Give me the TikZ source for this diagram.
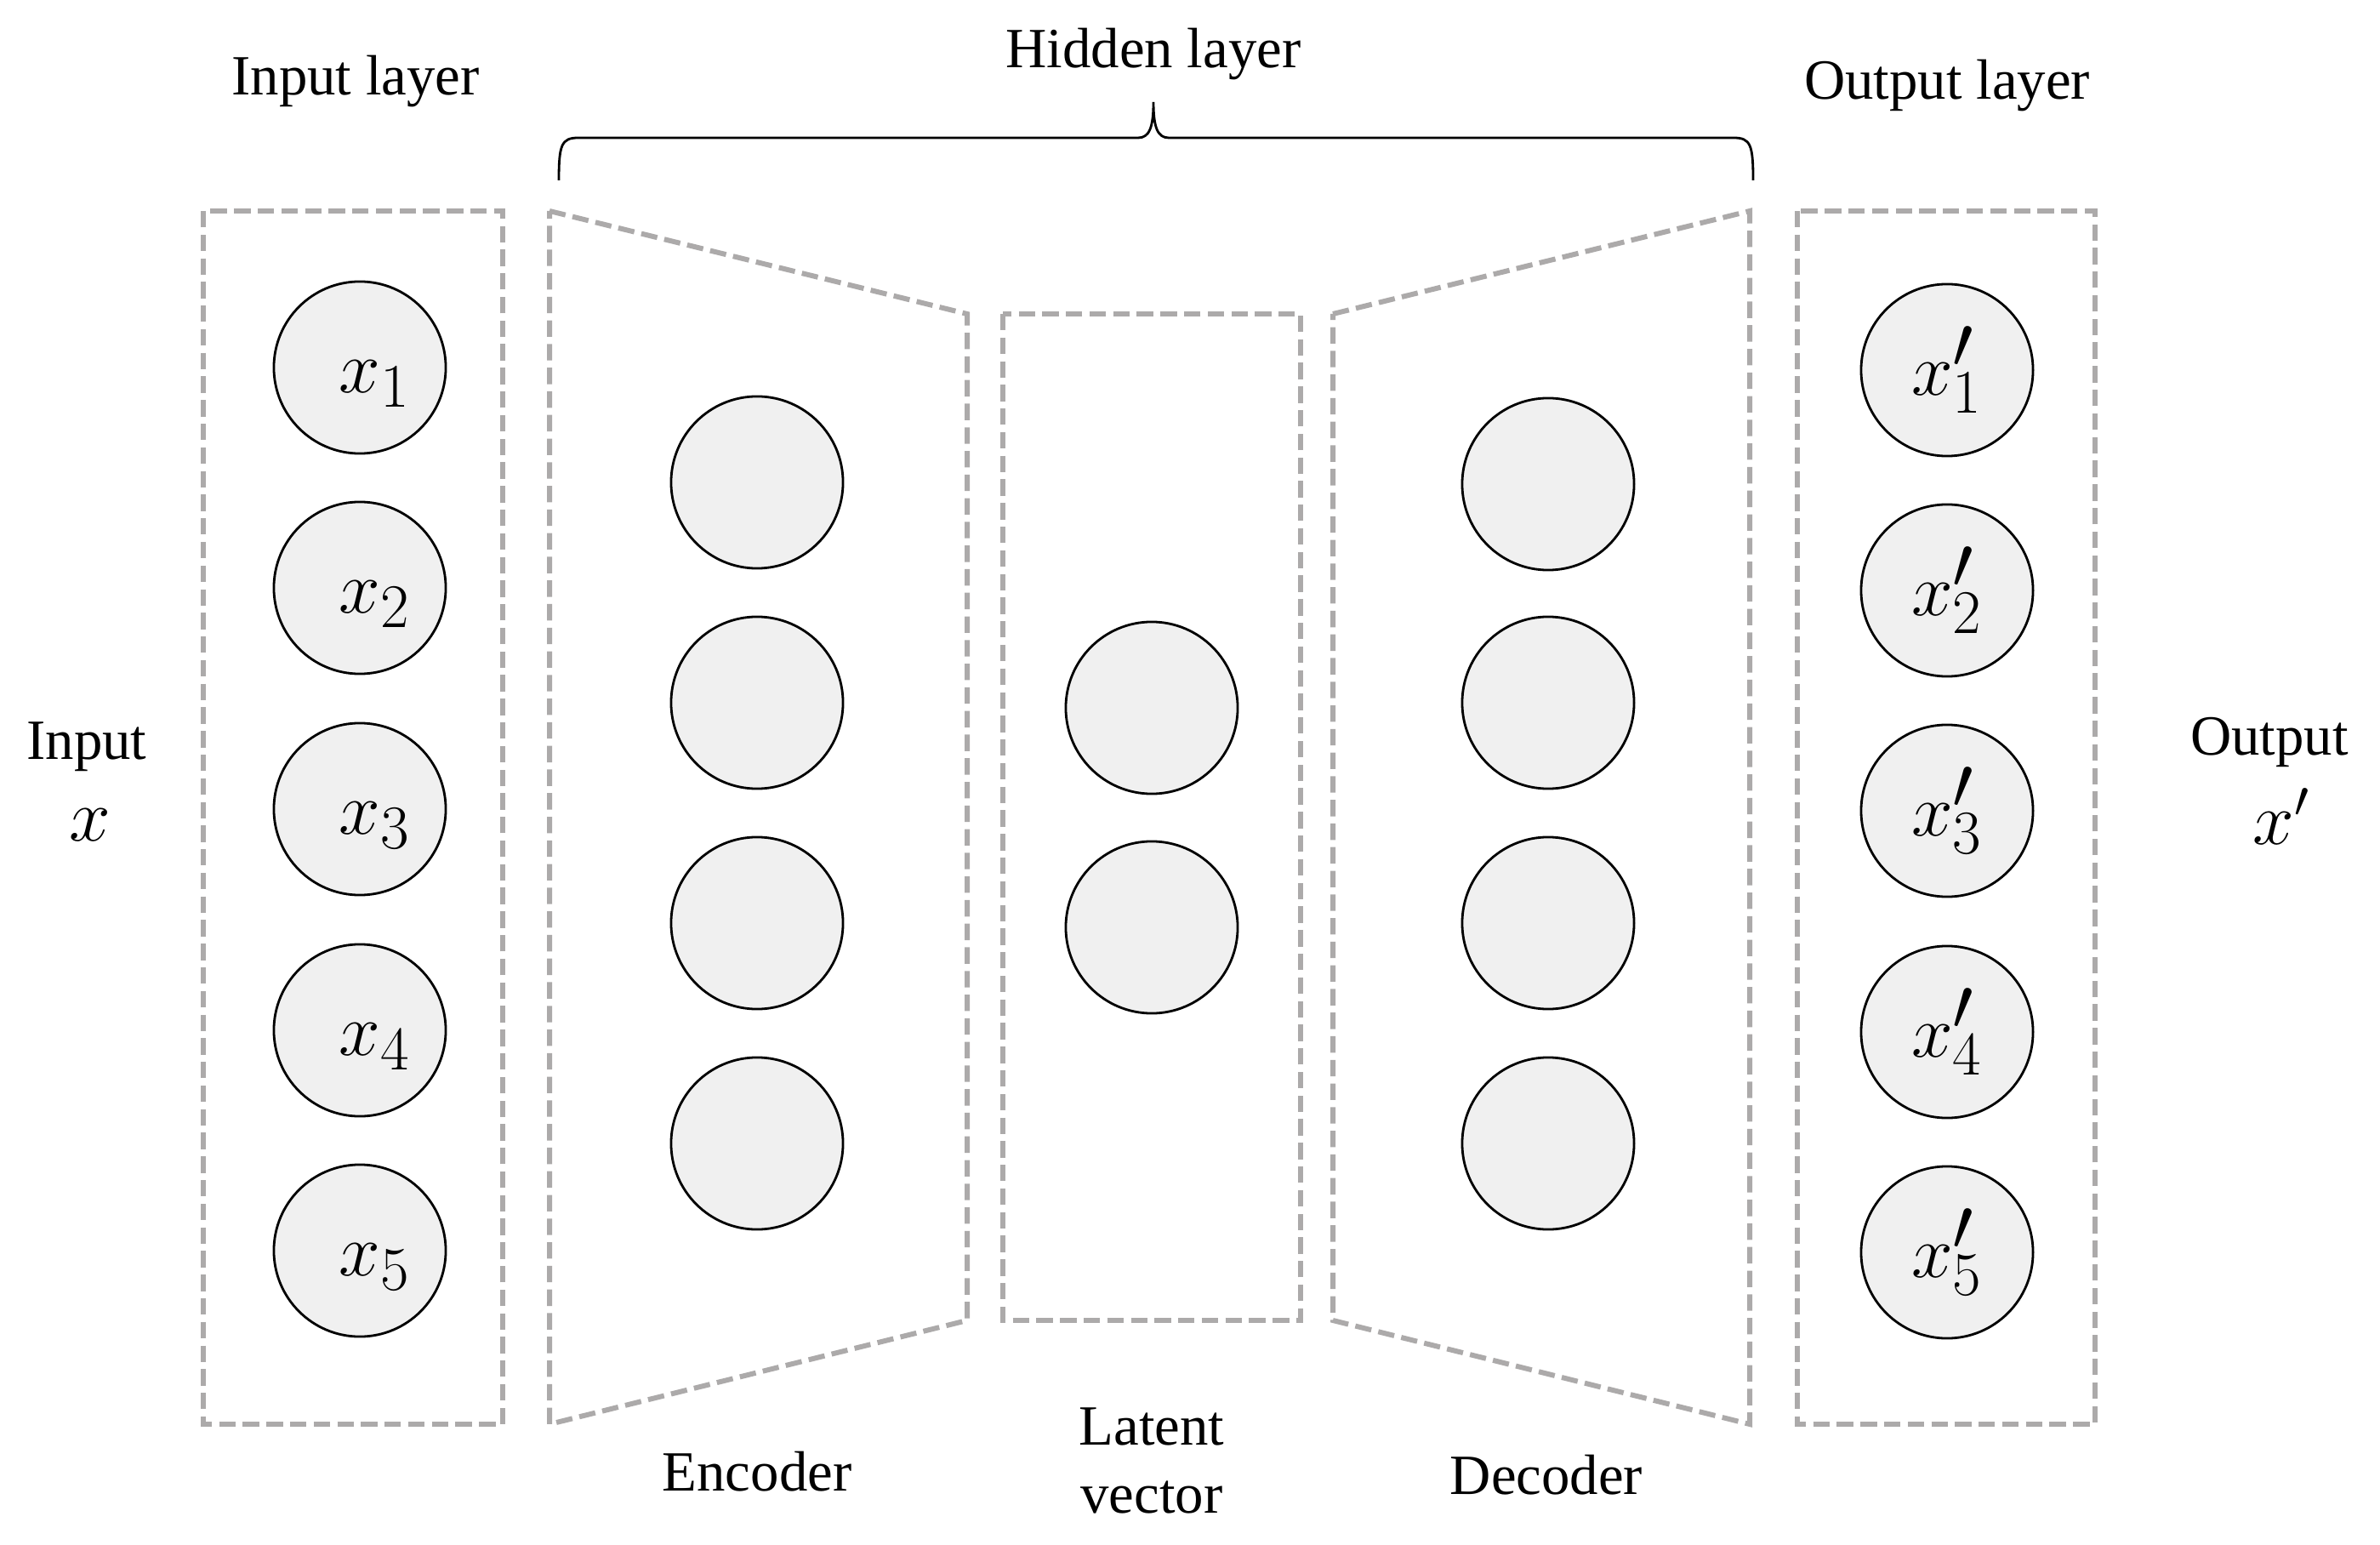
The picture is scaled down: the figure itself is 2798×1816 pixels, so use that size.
\documentclass[tikz,border=0pt]{standalone}
\usepackage{fontspec}
\setmainfont{Liberation Serif}
\definecolor{boxgray}{RGB}{172,170,170}
\definecolor{nfill}{RGB}{240,240,240}
\begin{document}
\begin{tikzpicture}[x=0.01cm,y=-0.01cm,
  neuron/.style={circle,draw=black,line width=0.8pt,fill=nfill,minimum size=2.02cm,inner sep=0pt,
     font=\fontsize{39}{44}\selectfont,text height=16.6pt,text depth=0pt},
  dbox/.style={draw=boxgray,line width=1.7pt,dash pattern=on 5.5pt off 2.4pt,line join=miter},
  lbl/.style={font=\fontsize{19}{22}\selectfont,anchor=base,inner sep=0pt},
  mlbl/.style={font=\fontsize{25}{28}\selectfont,anchor=base,inner sep=0pt},
  brace/.style={draw=black,line width=0.8pt}]
\useasboundingbox (0,0) rectangle (2798,1816);

% dashed containers
\draw[dbox] (239,248) rectangle (591,1674);
\draw[dbox] (646,248) -- (1137,369) -- (1137,1552) -- (646,1674) -- cycle;
\draw[dbox] (1179,369) rectangle (1529,1552);
\draw[dbox] (1567,369) -- (2057,248) -- (2057,1674) -- (1567,1552) -- cycle;
\draw[dbox] (2113,248) rectangle (2463,1674);

% input neurons
\foreach \i/\y in {1/432,2/691,3/951,4/1211,5/1470}
  \node[neuron] (in\i) at (423,\y) {$x\rlap{$_{\scriptscriptstyle \i}$}$};
% encoder neurons
\foreach \i/\y in {1/567,2/826,3/1085,4/1344}
  \node[neuron] (en\i) at (890,\y) {};
% latent neurons
\foreach \i/\y in {1/832,2/1090}
  \node[neuron] (la\i) at (1354,\y) {};
% decoder neurons
\foreach \i/\y in {1/569,2/826,3/1085,4/1344}
  \node[neuron] (de\i) at (1820,\y) {};
% output neurons
\foreach \i/\y in {1/435,2/694,3/953,4/1213,5/1472}
  \node[neuron] (out\i) at (2289,\y) {$x'_{\scriptscriptstyle \i}$};

% brace
\draw[brace] (657,212) .. controls (657,170) and (660,162) .. (680,162) -- (1338,162)
  .. controls (1351,162) and (1356,150) .. (1356,120)
  .. controls (1356,150) and (1361,162) .. (1374,162) -- (2038,162)
  .. controls (2058,162) and (2061,170) .. (2061,212);

% labels
\node[lbl] (tin) at (418,112) {Input layer};
\node[lbl] (thid) at (1356,80) {Hidden layer};
\node[lbl] (tout) at (2289,117) {Output layer};
\node[lbl] (tenc) at (890,1752) {Encoder};
\node[lbl] (tlat1) at (1354,1698) {Latent};
\node[lbl] (tlat2) at (1354,1778) {vector};
\node[lbl] (tdec) at (1818,1756) {Decoder};
\node[lbl] (tinput) at (102,892) {Input};
\node[mlbl] (tx) at (106,988) {$x$};
\node[lbl] (toutput) at (2668,887) {Output};
\node[mlbl] (txp) at (2682,992) {$x'$};
\end{tikzpicture}
\end{document}
